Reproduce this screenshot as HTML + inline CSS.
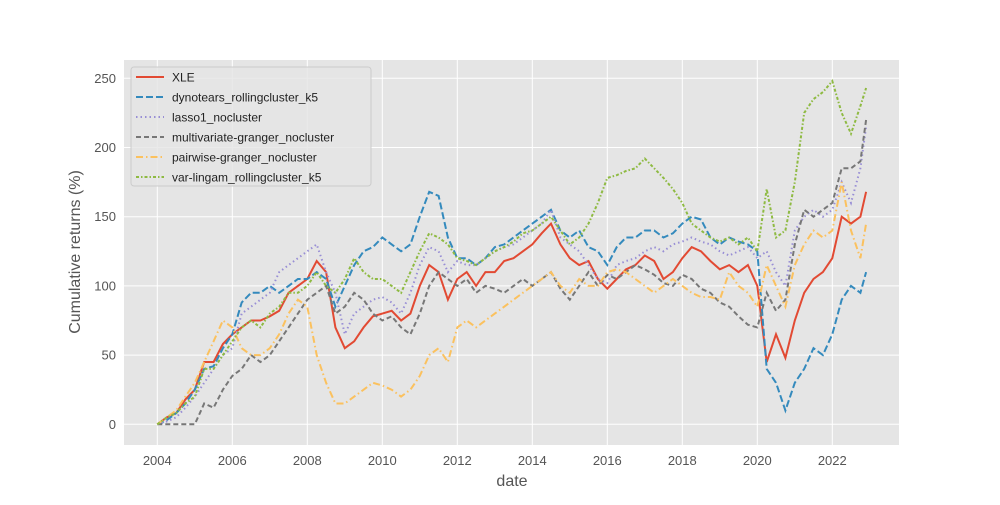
<!DOCTYPE html>
<html><head><meta charset="utf-8"><style>
body{margin:0;background:#fff;font-family:"Liberation Sans","DejaVu Sans",sans-serif}
svg text{fill:#555}
</style></head><body>
<svg id="c" width="1000" height="500" xmlns="http://www.w3.org/2000/svg">
<rect x="124" y="60" width="775" height="385" fill="#e5e5e5"/>
<g id="grid"></g><g id="series"></g><g id="axes"></g>
<text x="512" y="486" font-size="16" text-anchor="middle">date</text>
<text transform="translate(80,252) rotate(-90)" font-size="16" text-anchor="middle">Cumulative returns (%)</text>
<g id="legend"></g>
</svg>
<script>
const dates=[];for(let i=0;i<76;i++)dates.push(2004+i*0.25);dates.push(2022.9);
const seriesNames=["XLE","dynotears_rollingcluster_k5","lasso1_nocluster","multivariate-granger_nocluster","pairwise-granger_nocluster","var-lingam_rollingcluster_k5"];
const xle=[0,5,8,18,25,45,45,58,65,70,75,75,78,82,95,100,105,118,110,70,55,60,70,78,80,82,75,80,100,115,110,90,105,110,100,110,110,118,120,125,130,138,145,130,120,115,118,105,98,105,112,115,122,118,105,110,120,128,125,118,112,115,110,115,100,45,65,48,75,95,105,110,120,150,145,150,168];
const dyno=[0,3,8,15,25,40,42,55,65,88,95,95,100,95,100,105,105,110,105,85,100,115,125,128,135,130,125,130,150,168,165,135,120,120,115,120,128,130,135,140,145,150,155,140,135,140,128,125,115,128,135,135,140,140,135,138,145,150,148,135,130,135,132,130,125,40,30,10,30,40,55,50,65,90,100,95,110];
const lasso=[0,2,5,12,20,30,40,50,55,80,85,90,95,110,115,120,125,130,110,95,65,80,85,90,92,88,80,95,115,128,125,110,118,115,115,120,125,128,130,135,140,145,155,135,130,125,115,105,102,115,118,120,125,128,125,130,132,135,132,130,125,122,125,128,120,125,110,100,140,150,155,150,155,175,160,185,215];
const mvg=[0,0,0,0,0,15,12,25,35,40,50,45,50,60,70,80,90,95,100,80,85,95,90,80,75,78,70,65,80,100,110,105,100,105,95,100,98,95,100,105,100,105,110,98,90,100,110,100,108,105,110,115,112,108,102,100,108,105,98,95,88,85,78,72,70,95,82,90,130,155,150,155,160,185,185,190,220];
const pwg=[0,5,10,20,30,45,60,75,70,55,50,50,55,65,80,90,85,50,30,15,15,20,25,30,28,25,20,25,35,50,55,45,70,75,70,75,80,85,90,95,100,105,110,100,95,105,100,100,110,112,110,105,100,95,100,105,100,95,92,92,90,110,100,95,85,115,100,85,115,130,140,135,140,175,140,120,145];
const vlg=[0,5,8,15,20,40,40,50,60,70,75,70,80,85,95,95,100,110,100,95,105,120,110,105,105,100,95,110,125,138,135,130,120,118,115,120,125,128,132,138,140,145,150,140,130,135,145,160,178,180,183,185,192,185,178,170,160,145,140,135,132,135,130,135,125,170,135,140,175,225,235,240,248,225,210,230,243];
const xTicks=[2004,2006,2008,2010,2012,2014,2016,2018,2020,2022];
const yTicks=[0,50,100,150,200,250];
const X=d=>157.3+(d-2004)*37.5, Y=v=>424.3-v*1.384;
const NS="http://www.w3.org/2000/svg";
function mk(t,a,p){const e=document.createElementNS(NS,t);for(const k in a)e.setAttribute(k,a[k]);p.appendChild(e);return e;}
const G=document.getElementById('grid'),A=document.getElementById('axes'),S=document.getElementById('series'),L=document.getElementById('legend');
xTicks.forEach(t=>{const l=mk('line',{x1:X(t),x2:X(t),y1:60,y2:445,stroke:'#fff','stroke-width':1},G);


const tx=mk('text',{x:X(t),y:465,'font-size':13,'text-anchor':'middle'},A);tx.textContent=t;

});
yTicks.forEach(t=>{const l=mk('line',{x1:124,x2:899,y1:Y(t),y2:Y(t),stroke:'#fff','stroke-width':1},G);


const tx=mk('text',{x:116,y:Y(t)+4.5,'font-size':13,'text-anchor':'end'},A);tx.textContent=t;

});
const all=[xle,dyno,lasso,mvg,pwg,vlg];
const colors=["#e24a33","#348abd","#988ed5","#777777","#fbc15e","#8eba42"];
const dashes=["","7,3","1.5,3","5,3","7,3,1.5,3","3,2,1.5,2"];
const snames=['series-xle','series-dynotears','series-lasso1','series-multivariate-granger','series-pairwise-granger','series-var-lingam'];
all.forEach((arr,i)=>{const pts=arr.map((v,j)=>X(dates[j]).toFixed(1)+','+Y(v).toFixed(1)).join(' ');
const p=mk('polyline',{points:pts,fill:'none',stroke:colors[i],'stroke-width':2,'stroke-dasharray':dashes[i]},S);

});
const box=mk('rect',{x:131,y:67,width:240,height:119,rx:3,fill:'#e5e5e5',stroke:'#ccc','fill-opacity':0.8},L);


seriesNames.forEach((n,i)=>{const y=77+i*20;
mk('line',{x1:136,x2:164,y1:y,y2:y,stroke:colors[i],'stroke-width':2,'stroke-dasharray':dashes[i]},L);
const t=mk('text',{x:172,y:y+4.5,'font-size':12,fill:'#222'},L);t.textContent=n;t.style.fill='#222';

});
</script>
</body></html>
